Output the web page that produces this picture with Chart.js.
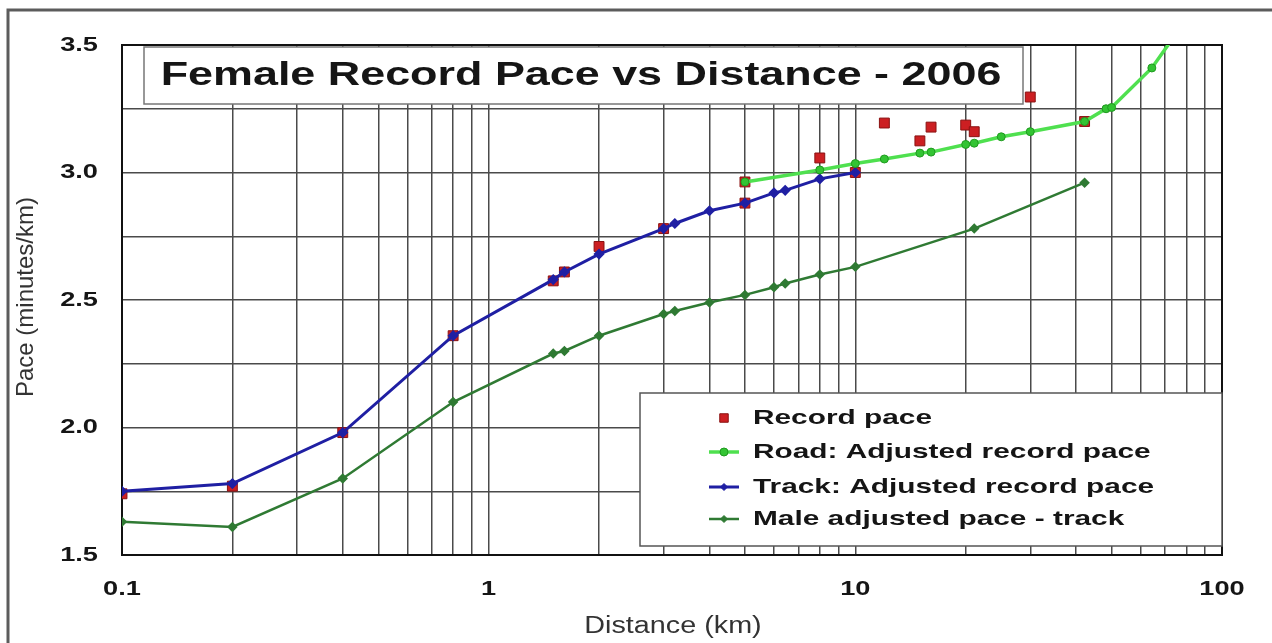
<!DOCTYPE html>
<html>
<head>
<meta charset="utf-8">
<title>Female Record Pace vs Distance - 2006</title>
<script src="https://cdn.jsdelivr.net/npm/chart.js@4.4.1/dist/chart.umd.min.js"></script>
<style>
  html, body { margin: 0; padding: 0; background: #fff; }
  #wrap { width: 1272px; height: 643px; }
</style>
</head>
<body>
<div id="wrap"><canvas id="paceChart" width="1272" height="643"></canvas></div>
<script>
// ── Distances (km) and paces (minutes/km) ──
const trackDist = [0.1, 0.2, 0.4, 0.8, 1.5, 1.609, 2, 3, 3.219, 4, 5, 6, 6.437, 8, 10];
const trackPace = [1.75, 1.78, 1.98, 2.36, 2.58, 2.61, 2.68, 2.78, 2.80, 2.85, 2.88, 2.92, 2.93, 2.975, 3.0];

const maleDist = [0.1, 0.2, 0.4, 0.8, 1.5, 1.609, 2, 3, 3.219, 4, 5, 6, 6.437, 8, 10, 21.1, 42.195];
const malePace = [1.63, 1.61, 1.80, 2.10, 2.29, 2.30, 2.36, 2.445, 2.457, 2.49, 2.52, 2.55, 2.565, 2.60, 2.63, 2.78, 2.96];

const roadDist = [5, 8, 10, 12, 15, 16.09, 20, 21.1, 25, 30, 42.195, 48.28, 50, 64.37, 100];
const roadPace = [2.963, 3.01, 3.035, 3.053, 3.076, 3.08, 3.11, 3.115, 3.14, 3.16, 3.20, 3.25, 3.255, 3.41, 3.8];

const recordDist = [0.1, 0.2, 0.4, 0.8, 1.5, 1.609, 2, 3, 5, 10, 5, 8, 12, 15, 16.09, 20, 21.1, 30, 42.195];
const recordPace = [1.74, 1.77, 1.98, 2.36, 2.575, 2.61, 2.71, 2.78, 2.88, 3.0, 2.963, 3.057, 3.194, 3.124, 3.178, 3.186, 3.16, 3.296, 3.20];

const xTickLabels = [0.1, 1, 10, 100];
const yTickLabels = [1.5, 2.0, 2.5, 3.0, 3.5];

const legendLabels = ['Record pace', 'Road: Adjusted record pace', 'Track: Adjusted record pace', 'Male adjusted pace - track'];
const chartTitle = 'Female Record Pace vs Distance - 2006';
const xTitle = 'Distance (km)';
const yTitle = 'Pace (minutes/km)';

// ── Colors ──
const colors = {
  record: '#cc1f22',
  recordEdge: '#8a1212',
  road: '#4fe04f',
  roadPoint: '#33c433',
  roadEdge: '#1f9a1f',
  track: '#1f1fa3',
  male: '#2f7a33',
  grid: '#4a4a4a',
  text: '#151515',
};

const FONT = "'Liberation Sans', Arial, sans-serif";

function toXY(xs, ys) {
  return xs.map((x, i) => ({ x, y: ys[i] }));
}

// the source picture is stretched sideways, so its text is too
function wideText(ctx, text, x, y, font, align, stretch, rotated) {
  ctx.save();
  ctx.translate(x, y);
  ctx.scale(stretch, 1);
  if (rotated) ctx.rotate(-Math.PI / 2);
  ctx.font = font;
  ctx.textAlign = align;
  ctx.textBaseline = 'middle';
  ctx.fillText(text, 0, 0);
  ctx.restore();
}

// log gridlines: 1..9 x each decade
const xGrid = [];
for (let e = -1; e < 2; e++) {
  for (let m = 1; m <= 9; m++) xGrid.push(Number((m * Math.pow(10, e)).toPrecision(3)));
}
xGrid.push(100);

const overlay = {
  id: 'overlay',
  beforeDatasetsDraw(chart) {
    const { ctx, chartArea: a } = chart;
    ctx.save();
    ctx.strokeStyle = '#111';
    ctx.lineWidth = 2;
    ctx.strokeRect(a.left, a.top, a.right - a.left, a.bottom - a.top);
    ctx.restore();
  },
  afterDatasetsDraw(chart) {
    const ctx = chart.ctx;
    const a = chart.chartArea;

    // ── Title box ──
    ctx.save();
    ctx.fillStyle = '#fff';
    ctx.fillRect(144, 47, 879, 57);
    ctx.strokeStyle = '#777';
    ctx.lineWidth = 1.5;
    ctx.strokeRect(144, 47, 879, 57);
    ctx.fillStyle = colors.text;
    wideText(ctx, chartTitle, 581, 76, 'bold 33px ' + FONT, 'center', 1.36);
    ctx.restore();

    // ── Legend box ──
    const lx = 640, ly = 393, lw = a.right - 640, lh = 153;
    ctx.save();
    ctx.fillStyle = '#fff';
    ctx.fillRect(lx, ly, lw, lh);
    ctx.strokeStyle = '#555';
    ctx.lineWidth = 1.5;
    ctx.strokeRect(lx, ly, lw, lh);

    const rows = [418, 452, 487, 519];
    const styles = [
      { line: null, style: 'rect', radius: 6, fill: colors.record, edge: colors.recordEdge },
      { line: colors.road, width: 3.5, style: 'circle', radius: 4, fill: colors.roadPoint, edge: colors.roadEdge },
      { line: colors.track, width: 3, style: 'rectRot', radius: 3.5, fill: colors.track, edge: colors.track },
      { line: colors.male, width: 2.5, style: 'rectRot', radius: 3.5, fill: colors.male, edge: colors.male },
    ];
    legendLabels.forEach((label, i) => {
      const y = rows[i];
      const s = styles[i];
      if (s.line) {
        ctx.strokeStyle = s.line;
        ctx.lineWidth = s.width;
        ctx.beginPath();
        ctx.moveTo(709, y);
        ctx.lineTo(739, y);
        ctx.stroke();
      }
      ctx.fillStyle = s.fill;
      ctx.strokeStyle = s.edge;
      ctx.lineWidth = 1;
      Chart.helpers.drawPoint(ctx, { pointStyle: s.style, radius: s.radius, borderWidth: 1 }, 724, y);
      ctx.fillStyle = colors.text;
      wideText(ctx, label, 753, y, 'bold 21px ' + FONT, 'left', 1.42);
    });
    ctx.restore();
  },
  afterDraw(chart) {
    const ctx = chart.ctx;
    const xs = chart.scales.x, ys = chart.scales.y;
    ctx.save();

    // tick labels, placed through the scales
    ctx.fillStyle = colors.text;
    xTickLabels.forEach(v => {
      wideText(ctx, String(v), xs.getPixelForValue(v), 589, 'bold 20px ' + FONT, 'center', 1.36);
    });
    yTickLabels.forEach(v => {
      wideText(ctx, v.toFixed(1), 98, ys.getPixelForValue(v), 'bold 20px ' + FONT, 'right', 1.36);
    });

    // axis titles
    ctx.fillStyle = '#333';
    wideText(ctx, xTitle, 673, 627, '23px ' + FONT, 'center', 1.25);
    wideText(ctx, yTitle, 26, 297, '24px ' + FONT, 'center', 1, true);

    // outer frame
    ctx.strokeStyle = '#5c5c5c';
    ctx.lineWidth = 3;
    ctx.beginPath();
    ctx.moveTo(8, 643);
    ctx.lineTo(8, 10);
    ctx.lineTo(1272, 10);
    ctx.stroke();
    ctx.restore();
  }
};

const paceChart = new Chart(document.getElementById('paceChart'), {
  type: 'line',
  data: {
    datasets: [
      {
        label: legendLabels[1],
        data: toXY(roadDist, roadPace),
        borderColor: colors.road,
        borderWidth: 3.5,
        pointStyle: 'circle',
        pointRadius: 4,
        pointBackgroundColor: colors.roadPoint,
        pointBorderColor: colors.roadEdge,
        pointBorderWidth: 1,
      },
      {
        label: legendLabels[2],
        data: toXY(trackDist, trackPace),
        borderColor: colors.track,
        borderWidth: 3,
        pointStyle: 'rectRot',
        pointRadius: 3.5,
        pointBackgroundColor: colors.track,
        pointBorderColor: colors.track,
      },
      {
        label: legendLabels[3],
        data: toXY(maleDist, malePace),
        borderColor: colors.male,
        borderWidth: 2.5,
        pointStyle: 'rectRot',
        pointRadius: 3.5,
        pointBackgroundColor: colors.male,
        pointBorderColor: colors.male,
      },
      {
        label: legendLabels[0],
        data: toXY(recordDist, recordPace),
        showLine: false,
        pointStyle: 'rect',
        pointRadius: 7,
        pointBackgroundColor: colors.record,
        pointBorderColor: colors.recordEdge,
        pointBorderWidth: 1,
      },
    ]
  },
  options: {
    responsive: false,
    animation: false,
    events: [],
    layout: { padding: { top: 45, right: 50, left: 0, bottom: 0 } },
    elements: { line: { tension: 0 } },
    scales: {
      x: {
        type: 'logarithmic',
        min: 0.1,
        max: 100,
        afterBuildTicks: (scale) => { scale.ticks = xGrid.map(v => ({ value: v })); },
        afterFit: (scale) => { scale.height = 88; },
        grid: { color: colors.grid, lineWidth: 1.5, drawTicks: false },
        border: { display: false },
        ticks: { display: false, autoSkip: false },
      },
      y: {
        min: 1.5,
        max: 3.5,
        afterFit: (scale) => { scale.width = 122; },
        grid: { color: colors.grid, lineWidth: 1.5, drawTicks: false },
        border: { display: false },
        ticks: { display: false, stepSize: 0.25 },
      }
    },
    plugins: {
      legend: { display: false },
      tooltip: { enabled: false },
    }
  },
  plugins: [overlay]
});
</script>
</body>
</html>
